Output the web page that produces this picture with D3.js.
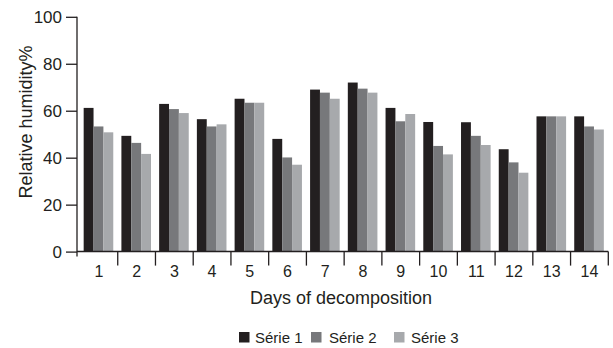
<!DOCTYPE html>
<html><head><meta charset="utf-8">
<script src="https://cdn.jsdelivr.net/npm/d3@7/dist/d3.min.js"></script>
<style>body{margin:0;background:#fff;} text{font-family:"Liberation Sans",Arial,sans-serif;fill:#231f20;}</style>
</head><body>
<svg id="chart" width="613" height="348"></svg>
<script>
const days = ["1","2","3","4","5","6","7","8","9","10","11","12","13","14"];
const seriesNames = ["Série 1","Série 2","Série 3"];
const serie1 = [61.2,49.3,62.9,56.4,65.1,48.0,69.0,72.0,61.2,55.2,55.1,43.6,57.6,57.6];
const serie2 = [53.3,46.3,60.7,53.3,63.4,40.1,67.7,69.4,55.5,45.0,49.3,38.0,57.6,53.3];
const serie3 = [50.8,41.6,59.0,54.2,63.4,37.0,65.1,67.7,58.6,41.4,45.4,33.6,57.6,52.0];
const yTicks = [0,20,40,60,80,100];
const colors = ["#231f20","#77787b","#a7a9ac"];

const svg = d3.select("#chart");
const x0 = 77, x1 = 80, x2 = 608.3, yBase = 251.6, yTop = 16.8;
const x = d3.scaleBand().domain(days).range([x1, x2]).paddingInner(0).paddingOuter(0);
const y = d3.scaleLinear().domain([0,100]).range([yBase, yTop]);
const xs = d3.scaleBand().domain(seriesNames).range([0, 29.6]);
const xOff = (x.bandwidth() - 29.6)/2 - 0.4;
const data = days.map((d,i)=>({day:d, vals:[serie1[i],serie2[i],serie3[i]]}));

const g = svg.append("g");
g.selectAll("g.grp").data(data).join("g").attr("class","grp")
 .attr("transform", d=>`translate(${x(d.day)+xOff},0)`)
 .selectAll("rect").data(d=>d.vals.map((v,j)=>({v,j}))).join("rect")
 .attr("x", d=>xs(seriesNames[d.j])).attr("width", xs.bandwidth())
 .attr("y", d=>y(d.v)).attr("height", d=>yBase - y(d.v))
 .attr("fill", d=>colors[d.j]);

// y axis
const ya = svg.append("g").attr("transform",`translate(${x0},0)`)
 .call(d3.axisLeft(y).tickValues(yTicks).tickSize(11).tickPadding(4));
ya.select(".domain").remove();
ya.append("line").attr("x1",0).attr("x2",0).attr("y1",yTop).attr("y2",yBase+5).attr("stroke","#231f20").attr("stroke-width",1.3);
ya.selectAll(".tick line").attr("stroke","#231f20").attr("stroke-width",1.3);
ya.selectAll(".tick text").style("font-size","17px").attr("fill","#231f20");

// x axis
svg.append("line").attr("x1",x0).attr("x2",x2).attr("y1",yBase).attr("y2",yBase).attr("stroke","#231f20").attr("stroke-width",1.5);
const xa = svg.append("g").attr("transform",`translate(0,${yBase})`)
 .call(d3.axisBottom(x).tickSize(0).tickPadding(14));
xa.select(".domain").remove();
xa.selectAll(".tick text").style("font-size","16px").attr("fill","#231f20");
svg.append("g").selectAll("line").data(days).join("line")
 .attr("x1", d=>x(d)+x.bandwidth()).attr("x2", d=>x(d)+x.bandwidth())
 .attr("y1", yBase).attr("y2", yBase+14).attr("stroke","#231f20").attr("stroke-width",1.3);

// titles
svg.append("text").attr("x",341).attr("y",304).attr("text-anchor","middle").style("font-size","18px").text("Days of decomposition");
svg.append("text").attr("transform","translate(32,122) rotate(-90)").attr("text-anchor","middle").style("font-size","18px").text("Relative humidity%");

// legend
const legSq = [239, 311, 394];
const legTx = [255, 329, 411];
const leg = svg.append("g").selectAll("g").data(seriesNames).join("g");
leg.append("rect").attr("x",(d,i)=>legSq[i]).attr("y",332).attr("width",10.5).attr("height",10.5).attr("fill",(d,i)=>colors[i]);
leg.append("text").attr("x",(d,i)=>legTx[i]).attr("y",342.5).style("font-size","15px").text(d=>d);
</script>
</body></html>
